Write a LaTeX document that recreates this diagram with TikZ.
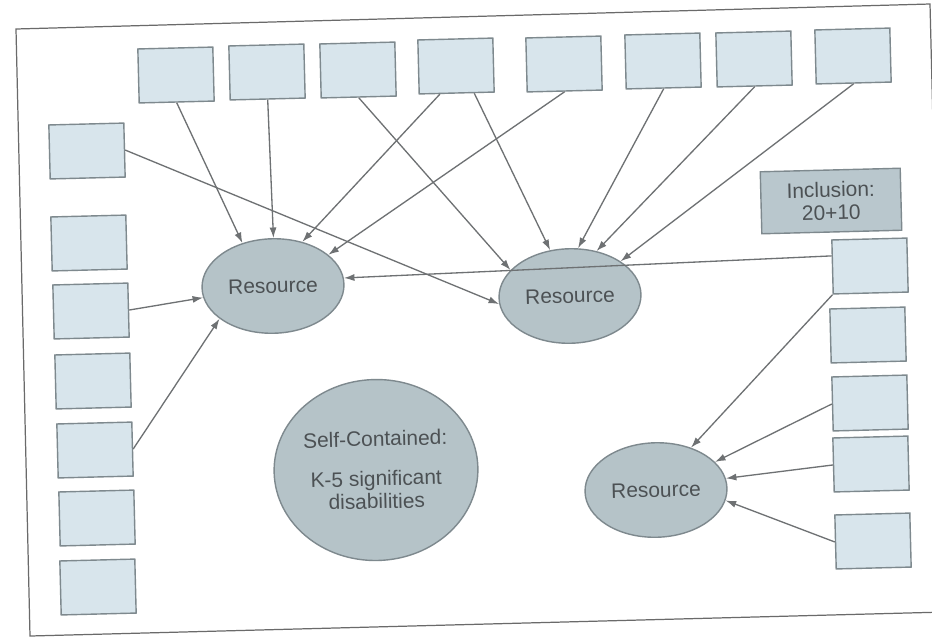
\documentclass[tikz,border=0pt]{standalone}
\usepackage{fontspec}
\setmainfont{Liberation Sans}
\usetikzlibrary{arrows.meta,calc,shapes.geometric}
\definecolor{boxfill}{HTML}{D8E5EC}
\definecolor{boxline}{HTML}{7E898E}
\definecolor{ellfill}{HTML}{B5C3C8}
\definecolor{incfill}{HTML}{B9C7CD}
\definecolor{txt}{HTML}{4C5154}
\definecolor{arrowc}{HTML}{6E7173}
\definecolor{framec}{HTML}{6A6A6A}
\begin{document}
\begin{tikzpicture}[x=0.02cm,y=-0.02cm,
  lbox/.style={draw=boxline,fill=boxfill,line width=0.8pt,minimum width=1.5cm,minimum height=1.08cm,inner sep=0pt,rotate=1.45},
  incbox/.style={draw=boxline,fill=incfill,line width=0.8pt,minimum width=2.8cm,minimum height=1.24cm,inner sep=0pt,rotate=1.45,align=center,text=txt,font=\fontsize{11.9}{13}\selectfont},
  res/.style={ellipse,draw=boxline,fill=ellfill,line width=0.8pt,minimum width=2.84cm,minimum height=1.89cm,inner sep=0pt,rotate=1.45,align=center,text=txt,font=\fontsize{11.9}{13}\selectfont},
  conn/.style={draw=arrowc,line width=0.75pt,-{Latex[length=6pt,width=4pt]}}]
\useasboundingbox (0,0) rectangle (932,637);
\fill[white] (0,0) rectangle (932,637);
\clip (0,0) rectangle (932,637);
\draw[framec,line width=0.7pt] (16,29) -- (930,4) -- (945,612) -- (30,636) -- cycle;
% top row
\node[lbox] (t1) at (176,75) {};
\node[lbox] (t2) at (267,72) {};
\node[lbox] (t3) at (358,70) {};
\node[lbox] (t4) at (456,66) {};
\node[lbox] (t5) at (564,64) {};
\node[lbox] (t6) at (663,61) {};
\node[lbox] (t7) at (754,59) {};
\node[lbox] (t8) at (853,56) {};
% left column
\node[lbox] (l1) at (87,151) {};
\node[lbox] (l2) at (89,243) {};
\node[lbox] (l3) at (91,311) {};
\node[lbox] (l4) at (93,381) {};
\node[lbox] (l5) at (95,450) {};
\node[lbox] (l6) at (97,518) {};
\node[lbox] (l7) at (98,587) {};
% right column
\node[lbox] (r1) at (870,266) {};
\node[lbox] (r2) at (868,335) {};
\node[lbox] (r3) at (870,403) {};
\node[lbox] (r4) at (871,464) {};
\node[lbox] (r5) at (873,541) {};
\node[incbox] (inc) at (831,201) {Inclusion:\\20+10};
% ellipses
\node[res] (e1) at (273,286) {Resource};
\node[res] (e2) at (570,296) {Resource};
\node[res] (e3) at (656,490) {Resource};
\node[res,minimum width=4cm,minimum height=3.62cm] (sc) at (376,470) {Self-Contained:\\[9.6pt]K-5 significant\\disabilities};
% connectors
\draw[conn] (t1.south) -- (e1.124);
\draw[conn] (t2.south) -- (e1.88);
\draw[conn] ($(t4.south west)!0.28!(t4.south east)$) -- (e1.55);
\draw[conn] (t5.south) -- (e1.28);
\draw[conn] ($(r1.west)!0.4!(r1.north west)$) -- (e1.5);
\draw[conn] (l3.east) -- (e1.188);
\draw[conn] (l5.east) -- (e1.210);
\draw[conn] (t3.south) -- (e2.155);
\draw[conn] ($(t4.south west)!0.73!(t4.south east)$) -- (e2.112);
\draw[conn] (t6.south) -- (e2.79);
\draw[conn] (t7.south) -- (e2.58);
\draw[conn] (t8.south) -- (e2.33);
\draw[conn] (l1.east) -- (e2.185);
\draw[conn] (r1.south west) -- (e3.49);
\draw[conn] (r3.west) -- (e3.24);
\draw[conn] (r4.west) -- (e3.8);
\draw[conn] (r5.west) -- (e3.-10);
\end{tikzpicture}
\end{document}
